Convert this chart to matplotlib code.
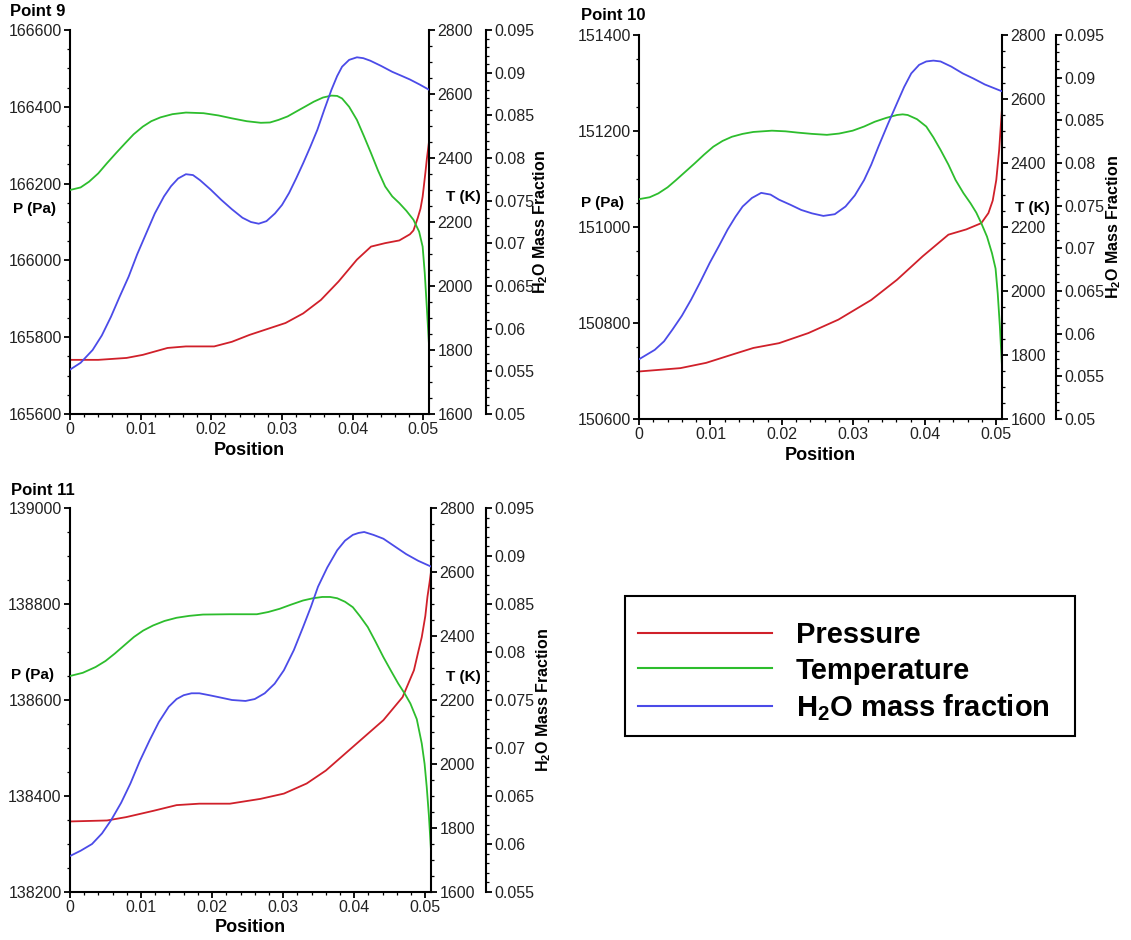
import matplotlib
matplotlib.use('Agg')
import matplotlib.pyplot as plt
from matplotlib.ticker import MultipleLocator, FuncFormatter
from matplotlib.lines import Line2D
from matplotlib.patches import Rectangle

# ---- data ----
# Point 9
p9_x = [0, 0.004, 0.008, 0.0103, 0.0138, 0.0164, 0.0204, 0.0229, 0.0254, 0.0305, 0.033, 0.0355,
        0.038, 0.0406, 0.0426, 0.0446, 0.0466, 0.0481, 0.0486, 0.0492, 0.0496, 0.0499, 0.0503, 0.0505, 0.0508]
p9 = [165741, 165741, 165746, 165754, 165772, 165776, 165776, 165788, 165806, 165837, 165862, 165897,
      165945, 166002, 166036, 166045, 166052, 166068, 166078, 166110, 166135, 166166, 166230, 166265, 166309]
t9_x = [0, 0.0015, 0.0027, 0.004, 0.0052, 0.0065, 0.0078, 0.009, 0.0103, 0.0115, 0.0128, 0.0145,
        0.0164, 0.0189, 0.021, 0.0229, 0.025, 0.027, 0.0283, 0.0295, 0.0308, 0.032, 0.0333, 0.0345,
        0.0358, 0.037, 0.0378, 0.0385, 0.0395, 0.0406, 0.0416, 0.0426, 0.0436, 0.0446, 0.0456, 0.0466,
        0.0476, 0.0486, 0.0494, 0.0499, 0.0502, 0.0505, 0.0508]
t9 = [2300, 2308, 2326, 2352, 2383, 2415, 2446, 2474, 2498, 2515, 2527, 2537,
      2542, 2540, 2533, 2524, 2515, 2510, 2511, 2519, 2530, 2545, 2561, 2576,
      2589, 2595, 2594, 2586, 2560, 2519, 2468, 2415, 2360, 2311, 2280, 2259,
      2235, 2207, 2170, 2123, 2040, 1930, 1816]
h9_x = [0, 0.0015, 0.0032, 0.0045, 0.0058, 0.007, 0.0083, 0.0095, 0.0108, 0.012, 0.0133, 0.0143,
        0.0153, 0.0164, 0.0174, 0.0184, 0.0199, 0.0214, 0.0229, 0.0244, 0.0256, 0.0267, 0.0278,
        0.029, 0.03, 0.031, 0.032, 0.033, 0.034, 0.035, 0.036, 0.037, 0.0378, 0.0385, 0.0395,
        0.0406, 0.0415, 0.0425, 0.044, 0.0456, 0.047, 0.0481, 0.0495, 0.0508]
h9 = [0.0552, 0.0560, 0.0575, 0.0592, 0.0614, 0.0637, 0.0661, 0.0687, 0.0712, 0.0735, 0.0755, 0.0767,
      0.0776, 0.0781, 0.0780, 0.0774, 0.0763, 0.0751, 0.0740, 0.0730, 0.0725, 0.0723, 0.0726,
      0.0735, 0.0745, 0.0759, 0.0776, 0.0794, 0.0813, 0.0833, 0.0857, 0.0880, 0.0896, 0.0907, 0.0915,
      0.0918, 0.0917, 0.0914, 0.0908, 0.0901, 0.0896, 0.0892, 0.0886, 0.0880]

# Point 10
p10_x = [0, 0.0058, 0.0094, 0.013, 0.016, 0.0196, 0.0237, 0.0279, 0.0325, 0.0361, 0.0397, 0.0433,
         0.0458, 0.0479, 0.0489, 0.0495, 0.05, 0.0504, 0.0508]
p10 = [150699, 150706, 150717, 150734, 150748, 150758, 150779, 150807, 150848, 150890, 150939, 150984,
       150995, 151008, 151029, 151055, 151098, 151160, 151247]
t10_x = [0, 0.0015, 0.0027, 0.004, 0.0052, 0.0065, 0.0078, 0.0091, 0.0104, 0.0117, 0.013, 0.0145,
         0.016, 0.0186, 0.0205, 0.0222, 0.0242, 0.0263, 0.028, 0.0299, 0.0315, 0.033, 0.0346, 0.0361,
         0.0369, 0.0376, 0.0389, 0.0402, 0.0412, 0.0422, 0.0433, 0.0443, 0.0454, 0.0464, 0.0472,
         0.0479, 0.0487, 0.0494, 0.0499, 0.0502, 0.0505, 0.0508]
t10 = [2287, 2293, 2305, 2324, 2347, 2373, 2399, 2426, 2451, 2469, 2482, 2491,
       2497, 2501, 2499, 2495, 2491, 2488, 2492, 2501, 2514, 2529, 2541, 2550,
       2552, 2550, 2537, 2514, 2480, 2441, 2395, 2347, 2306, 2274, 2245,
       2212, 2170, 2118, 2070, 1993, 1890, 1764]
h10_x = [0, 0.0022, 0.0035, 0.0047, 0.006, 0.0073, 0.0086, 0.0099, 0.0112, 0.0124, 0.0135, 0.0145,
         0.0158, 0.0171, 0.0184, 0.0196, 0.0212, 0.0227, 0.0242, 0.0258, 0.0274, 0.0289, 0.0302,
         0.0315, 0.0325, 0.0335, 0.0348, 0.0361, 0.0371, 0.0381, 0.0392, 0.0402, 0.0412, 0.0422,
         0.0437, 0.0453, 0.0468, 0.0484, 0.0496, 0.0508]
h10 = [0.0570, 0.0581, 0.0591, 0.0605, 0.0621, 0.0640, 0.0661, 0.0683, 0.0703, 0.0722, 0.0737, 0.0749,
       0.0759, 0.0765, 0.0763, 0.0757, 0.0751, 0.0745, 0.0741, 0.0738, 0.0740, 0.0749, 0.0762,
       0.0780, 0.0798, 0.0819, 0.0845, 0.0870, 0.0889, 0.0905, 0.0915, 0.0919, 0.0920, 0.0919,
       0.0913, 0.0905, 0.0899, 0.0892, 0.0888, 0.0884]

# Point 11
p11_x = [0, 0.0052, 0.0079, 0.0117, 0.015, 0.0182, 0.0225, 0.0268, 0.0301, 0.0333, 0.036, 0.0387,
         0.0414, 0.0441, 0.0468, 0.0484, 0.049, 0.0495, 0.05, 0.0503, 0.0506, 0.0508]
p11 = [138347, 138349, 138356, 138369, 138381, 138384, 138384, 138394, 138405, 138426, 138453, 138488,
       138523, 138558, 138606, 138662, 138700, 138731, 138775, 138815, 138845, 138867]
t11_x = [0, 0.0018, 0.0036, 0.005, 0.0063, 0.0077, 0.009, 0.0103, 0.0117, 0.0133, 0.015, 0.0168,
         0.0187, 0.0225, 0.0263, 0.0279, 0.0295, 0.0311, 0.0328, 0.0342, 0.0355, 0.0366, 0.0376,
         0.0387, 0.0398, 0.0408, 0.0419, 0.043, 0.0441, 0.0452, 0.0462, 0.0471, 0.0479, 0.0488,
         0.0495, 0.0499, 0.0502, 0.0505, 0.0508]
t11 = [2275, 2285, 2303, 2322, 2345, 2372, 2397, 2417, 2433, 2447, 2457, 2463,
       2467, 2468, 2468, 2475, 2485, 2498, 2511, 2518, 2522, 2522, 2518,
       2507, 2490, 2462, 2428, 2382, 2334, 2290, 2251, 2220, 2189, 2140,
       2064, 2000, 1928, 1840, 1730]
h11_x = [0, 0.0015, 0.0031, 0.0045, 0.0058, 0.0072, 0.0085, 0.0098, 0.0112, 0.0125, 0.0139, 0.015,
         0.016, 0.0171, 0.0182, 0.0196, 0.0209, 0.0228, 0.0247, 0.026, 0.0274, 0.0288, 0.0301,
         0.0315, 0.0328, 0.0339, 0.0349, 0.0362, 0.0376, 0.0387, 0.0398, 0.0406, 0.0414, 0.0427,
         0.0441, 0.0457, 0.0473, 0.049, 0.0508]
h11 = [0.05875, 0.0593, 0.0600, 0.0611, 0.0625, 0.0643, 0.0663, 0.0686, 0.0708, 0.0727, 0.0743, 0.0751,
       0.0755, 0.0757, 0.0757, 0.0755, 0.0753, 0.0750, 0.0749, 0.0751, 0.0757, 0.0767, 0.0781,
       0.0802, 0.0826, 0.0847, 0.0868, 0.0888, 0.0906, 0.0916, 0.0922, 0.0924, 0.0925, 0.0922,
       0.0918, 0.0910, 0.0902, 0.0895, 0.0889]

legend_labels = ['Pressure', 'Temperature', r'H$_2$O mass fraction']

RED = '#d0202a'
GREEN = '#2dbd2d'
BLUE = '#4b4be8'
XMAX = 0.0508

plt.rcParams['font.family'] = ['Liberation Sans', 'DejaVu Sans']
plt.rcParams['mathtext.fontset'] = 'custom'
plt.rcParams['mathtext.rm'] = 'Liberation Sans:bold'
plt.rcParams['mathtext.it'] = 'Liberation Sans:bold'
plt.rcParams['mathtext.bf'] = 'Liberation Sans:bold'
plt.rcParams['mathtext.default'] = 'rm'

fig = plt.figure(figsize=(11.31, 9.4), dpi=100)
W, H = 1131.0, 940.0

fmt = FuncFormatter(lambda v, _: f'{v:g}')


def ticks(a, which_axis):
    a.tick_params(axis=which_axis, which='major', direction='out', length=4.5, width=1.3,
                  labelsize=11.5, pad=1.5, labelcolor='#222222')
    a.tick_params(axis=which_axis, which='minor', direction='out', length=2.5, width=0.9)


def panel(box, title, px, p, tx, t, hx, h, plim, hlim, h_off, plab, tlab, hlab_x):
    left, top, right, bottom = box
    ax = fig.add_axes([left / W, 1 - bottom / H, (right - left) / W, (bottom - top) / H])
    axt = ax.twinx()
    axh = ax.twinx()
    axh.spines['right'].set_position(('axes', h_off))

    ax.spines['top'].set_visible(False)
    ax.spines['right'].set_visible(False)
    for a in (axt, axh):
        for s in ('top', 'left', 'bottom'):
            a.spines[s].set_visible(False)
    for a in (ax, axt, axh):
        for s in a.spines.values():
            s.set_linewidth(1.5)

    kw = dict(lw=1.3, solid_joinstyle='round', solid_capstyle='round')
    ax.plot(px, p, color=RED, **kw)
    axt.plot(tx, t, color=GREEN, **kw)
    axh.plot(hx, h, color=BLUE, **kw)

    ax.set_xlim(0, XMAX)
    ax.set_ylim(*plim)
    axt.set_ylim(1600, 2800)
    axh.set_ylim(*hlim)

    ax.xaxis.set_major_locator(MultipleLocator(0.01))
    ax.xaxis.set_minor_locator(MultipleLocator(0.002))
    ax.yaxis.set_major_locator(MultipleLocator(200))
    ax.yaxis.set_minor_locator(MultipleLocator(50))
    axt.yaxis.set_major_locator(MultipleLocator(200))
    axt.yaxis.set_minor_locator(MultipleLocator(50))
    axh.yaxis.set_major_locator(MultipleLocator(0.005))
    axh.yaxis.set_minor_locator(MultipleLocator(0.001))
    ax.xaxis.set_major_formatter(fmt)
    axh.yaxis.set_major_formatter(fmt)
    ticks(ax, 'x')
    ticks(ax, 'y')
    ticks(axt, 'y')
    ticks(axh, 'y')

    ax.set_xlabel('Position', fontsize=13, fontweight='bold', labelpad=3)
    ax.text(plab[0], plab[1], 'P (Pa)', transform=ax.transAxes, ha='left', va='center',
            fontsize=11, fontweight='bold')
    ax.text(tlab[0], tlab[1], 'T (K)', transform=ax.transAxes, ha='left', va='center',
            fontsize=11, fontweight='bold')
    ax.text(hlab_x, 0.5, r'H$_2$O Mass Fraction', transform=ax.transAxes, rotation=90,
            ha='center', va='center', fontsize=11.5, fontweight='bold')
    fig.text(title[1] / W, 1 - title[2] / H, title[0], ha='left', va='center',
             fontsize=12, fontweight='bold')
    return ax


panel((70, 30, 429, 414), ('Point 9', 10, 12), p9_x, p9, t9_x, t9, h9_x, h9,
      (165600, 166600), (0.05, 0.095), 1.159, (-0.16, 0.534), (1.048, 0.566), 1.312)
panel((639, 35, 1002, 419), ('Point 10', 581, 16), p10_x, p10, t10_x, t10, h10_x, h10,
      (150600, 151400), (0.05, 0.095), 1.149, (-0.16, 0.5625), (1.036, 0.549), 1.307)
panel((70, 508, 431, 892), ('Point 11', 11, 490), p11_x, p11, t11_x, t11, h11_x, h11,
      (138200, 139000), (0.055, 0.095), 1.152, (-0.164, 0.564), (1.042, 0.56), 1.313)

# legend: box drawn separately so its padding matches the picture
fig.patches.append(Rectangle((625 / W, 1 - 736 / H), 450 / W, 140 / H, transform=fig.transFigure,
                             facecolor='white', edgecolor='black', lw=1.5, zorder=1))
handles = [Line2D([], [], color=c, lw=1.5) for c in (RED, GREEN, BLUE)]
leg = fig.legend(handles, legend_labels, loc='center left', bbox_to_anchor=(638 / W, 1 - 672 / H),
                 prop={'size': 21, 'weight': 'bold'}, handlelength=4.6, handletextpad=0.8,
                 labelspacing=0.25, borderpad=0, borderaxespad=0, frameon=False)
leg.set_zorder(2)

fig.savefig('out.png', dpi=100)
